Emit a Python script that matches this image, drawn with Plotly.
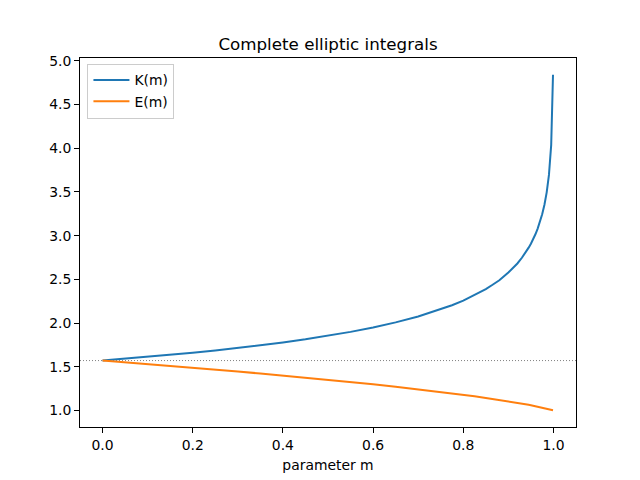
import plotly.graph_objects as go

# parameter m and the two complete elliptic integrals
m = [0.0, 0.05, 0.1, 0.15, 0.2, 0.25, 0.3, 0.35, 0.4, 0.45, 0.5, 0.55, 0.6,
     0.65, 0.7, 0.75, 0.775, 0.8, 0.825, 0.85, 0.865, 0.88, 0.9, 0.91, 0.92,
     0.93, 0.94, 0.945, 0.95, 0.955, 0.96, 0.965, 0.97, 0.975, 0.98, 0.985,
     0.99, 0.993, 0.995, 0.999]
K = [1.5708, 1.5910, 1.6124, 1.6352, 1.6596, 1.6858, 1.7139, 1.7443, 1.7775,
     1.8137, 1.8541, 1.8989, 1.9496, 2.0076, 2.0754, 2.1565, 2.2040, 2.2572,
     2.3185, 2.3890, 2.4380, 2.4900, 2.5781, 2.6277, 2.6820, 2.7471, 2.8200,
     2.8625, 2.9083, 2.9590, 3.0157, 3.0808, 3.1557, 3.2447, 3.3541, 3.4956,
     3.6956, 3.8720, 4.0393, 4.8411]
E = [1.5708, 1.5510, 1.5308, 1.5101, 1.4890, 1.4675, 1.4454, 1.4227, 1.3994,
     1.3753, 1.3506, 1.3250, 1.2984, 1.2707, 1.2417, 1.2111, 1.1951, 1.1785,
     1.1615, 1.1434, 1.1324, 1.1210, 1.1048, 1.0964, 1.0880, 1.0791, 1.0700,
     1.0652, 1.0605, 1.0555, 1.0506, 1.0453, 1.0400, 1.0344, 1.0286, 1.0226,
     1.0160, 1.0118, 1.0089, 1.0025]
half_pi = 1.5708

fig = go.Figure()
fig.add_trace(go.Scatter(x=m, y=K, mode="lines", name="K(m)",
                         line=dict(color="#1f77b4", width=2)))
fig.add_trace(go.Scatter(x=m, y=E, mode="lines", name="E(m)",
                         line=dict(color="#ff7f0e", width=2)))
fig.add_hline(y=half_pi, line=dict(color="gray", width=1, dash="1px,2px"), layer="below")

axis_style = dict(showgrid=False, zeroline=False, showline=True, mirror=True,
                  linecolor="black", linewidth=1, ticks="outside", ticklen=5,
                  tickcolor="black", tickfont=dict(size=13.9, color="black"))

# the page body adds 8px, so margins are shifted by that much
fig.update_layout(
    width=640, height=480,
    margin=dict(l=72, r=72, t=50, b=61),
    paper_bgcolor="white", plot_bgcolor="white",
    font=dict(family="DejaVu Sans", size=13.9, color="black"),
    title=dict(text="Complete elliptic integrals", x=0.5, xanchor="center",
               y=0.925, yanchor="middle", font=dict(size=16.7)),
    xaxis=dict(range=[-0.05, 1.05], tickvals=[0, 0.2, 0.4, 0.6, 0.8, 1.0],
               ticktext=["0.0", "0.2", "0.4", "0.6", "0.8", "1.0"],
               title=dict(text="parameter m", font=dict(size=13.9), standoff=8),
               **axis_style),
    yaxis=dict(range=[0.8106, 5.033], tickvals=[1, 1.5, 2, 2.5, 3, 3.5, 4, 4.5, 5],
               ticktext=["1.0", "1.5", "2.0", "2.5", "3.0", "3.5", "4.0", "4.5", "5.0"],
               **axis_style),
    legend=dict(x=0.015, y=0.985, xanchor="left", yanchor="top",
                bordercolor="#cccccc", borderwidth=1, bgcolor="rgba(255,255,255,0.8)",
                font=dict(size=13.9), itemwidth=36, tracegroupgap=0),
    showlegend=True,
)

fig.write_html("out.html")
